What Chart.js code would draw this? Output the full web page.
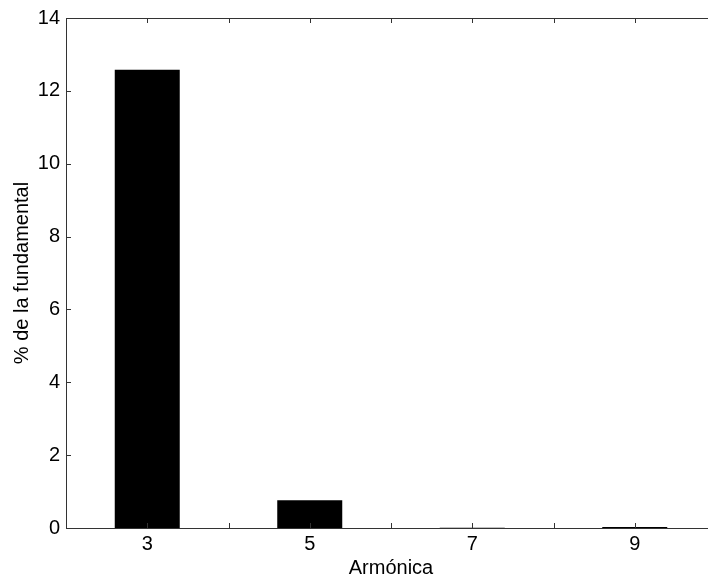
<!DOCTYPE html>
<html>
<head>
<meta charset="utf-8">
<script src="https://cdn.jsdelivr.net/npm/chart.js@4/dist/chart.umd.min.js"></script>
<style>
  html, body { margin: 0; padding: 0; background: #fff; overflow: hidden; }
</style>
</head>
<body>
<canvas id="armChart" width="720" height="580"></canvas>
<script>
// datos
const harmonics = [3, 5, 7, 9];
const percentValues = [12.58, 0.76, 0.01, 0.03];
const xTickLabels = [3, 5, 7, 9];
const yTicks = [0, 2, 4, 6, 8, 10, 12, 14];

const fontFamily = "'Liberation Sans', Arial, sans-serif";

// caja de ejes estilo MATLAB, con marcas hacia dentro
const axisBox = {
  id: "axisBox",
  afterDatasetsDraw(chart) {
    const { ctx, chartArea: a, scales } = chart;
    const len = 5;
    ctx.save();
    ctx.strokeStyle = "#333";
    ctx.lineWidth = 1;
    ctx.strokeRect(a.left + 0.5, a.top + 0.5, a.right - a.left, a.bottom - a.top);
    ctx.beginPath();
    scales.x.ticks.forEach(t => {
      const px = Math.round(scales.x.getPixelForValue(t.value)) + 0.5;
      ctx.moveTo(px, a.bottom); ctx.lineTo(px, a.bottom - len);
      ctx.moveTo(px, a.top); ctx.lineTo(px, a.top + len);
    });
    scales.y.ticks.forEach(t => {
      const py = Math.round(scales.y.getPixelForValue(t.value)) + 0.5;
      ctx.moveTo(a.left, py); ctx.lineTo(a.left + len, py);
      ctx.moveTo(a.right, py); ctx.lineTo(a.right - len, py);
    });
    ctx.stroke();
    ctx.restore();
  }
};

const ctx = document.getElementById("armChart").getContext("2d");
new Chart(ctx, {
  type: "bar",
  data: {
    datasets: [{
      data: harmonics.map((h, i) => ({ x: h, y: percentValues[i] })),
      backgroundColor: "#000",
      borderColor: "#000",
      borderWidth: 0,
      barPercentage: 0.8,
      categoryPercentage: 1
    }]
  },
  options: {
    responsive: false,
    animation: false,
    layout: { padding: { top: 16, right: 2, left: 0, bottom: 0 } },
    plugins: {
      legend: { display: false },
      tooltip: { enabled: false }
    },
    scales: {
      x: {
        type: "linear",
        min: 2,
        max: 10,
        offset: false,
        grid: { display: false, tickLength: 0 },
        border: { display: false },
        afterBuildTicks: (scale) => {
          const t = [];
          for (let v = 2; v <= 10; v++) t.push({ value: v });
          scale.ticks = t;
        },
        ticks: {
          autoSkip: false,
          maxRotation: 0,
          padding: 4,
          color: "#000",
          font: { family: fontFamily, size: 20 },
          callback: (v) => xTickLabels.includes(v) ? String(v) : ""
        },
        title: {
          display: true,
          text: "Armónica",
          color: "#000",
          font: { family: fontFamily, size: 20 },
          padding: { top: 0, bottom: 0 }
        },
        afterFit: (scale) => { scale.height = 52; }
      },
      y: {
        min: 0,
        max: 14,
        grid: { display: false, tickLength: 0 },
        border: { display: false },
        afterBuildTicks: (scale) => { scale.ticks = yTicks.map(v => ({ value: v })); },
        ticks: {
          padding: 6,
          color: "#000",
          font: { family: fontFamily, size: 20 }
        },
        title: {
          display: true,
          text: "% de la fundamental",
          color: "#000",
          font: { family: fontFamily, size: 20 },
          padding: { top: 10, bottom: 0 }
        },
        afterFit: (scale) => { scale.width = 66; }
      }
    }
  },
  plugins: [axisBox]
});
</script>
</body>
</html>
